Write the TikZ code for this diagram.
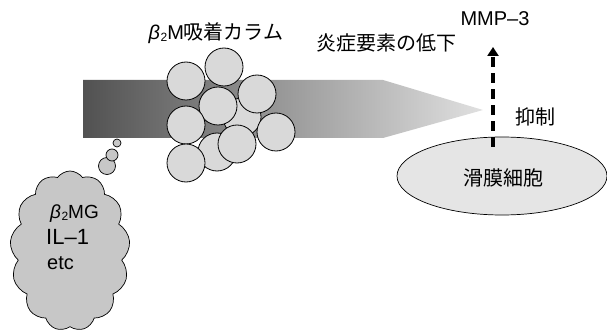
\documentclass[tikz,border=0pt]{standalone}
\usepackage{fontspec}
\setmainfont{Liberation Sans}
\newfontfamily\jp{Noto Sans CJK JP}
\usetikzlibrary{shapes.symbols,shapes.geometric,arrows.meta}
\begin{document}
\begin{tikzpicture}[x=1pt,y=-1pt,
  bead/.style={circle,draw=black,line width=0.8pt,fill=black!15,minimum size=38pt,inner sep=0pt},
  bubble/.style={circle,draw=black,line width=0.7pt,fill=black!22,inner sep=0pt},
  lbl/.style={font=\fontsize{20}{22}\selectfont\jp,inner sep=0pt},
  ctext/.style={anchor=west,inner sep=0pt},
  dasharrow/.style={line width=3.5pt,dash pattern=on 10pt off 6pt,-{Triangle[width=11pt,length=9pt]}}]
\useasboundingbox (0,0) rectangle (607,331);
% band
\shade[left color=black!68,right color=black!12]
  (83,80) -- (383,80) -- (483,110) -- (383,138) -- (83,138) -- cycle;
% beads
\node[bead] (c6) at (242,117) {};
\node[bead] (c8) at (217,152) {};
\node[bead] (c1) at (186,81) {};
\node[bead] (c2) at (224,67) {};
\node[bead] (c3) at (257,94) {};
\node[bead] (c4) at (218,106) {};
\node[bead] (c5) at (186,125) {};
\node[bead] (c7) at (276,132) {};
\node[bead] (c9) at (237,144) {};
\node[bead] (c10) at (186,163) {};
\node[inner sep=0pt,font=\fontsize{20}{22}\selectfont] (title) at (216,33) {\textit{β}\kern0.5pt{\fontsize{12}{12}\selectfont\raisebox{-2pt}{2}}M{\jp 吸着カラム}};
% cloud
\node[cloud,cloud puffs=13,cloud puff arc=110,aspect=0.75,draw=black,line width=0.7pt,fill=black!22,minimum width=120pt,minimum height=160pt,inner sep=0pt] (cloud) at (70,251) {};
\node[bubble,minimum size=17pt] (b3) at (107,166) {};
\node[bubble,minimum size=12pt] (b2) at (112,155) {};
\node[bubble,minimum size=8pt] (b1) at (117,143) {};
\node[ctext,font=\fontsize{19}{21}\selectfont] (t1) at (50,214) {\textit{β}\kern0.5pt{\fontsize{12}{12}\selectfont\raisebox{-2pt}{2}}MG};
\node[ctext,font=\fontsize{22}{24}\selectfont] (t2) at (46,237) {IL–1};
\node[ctext,font=\fontsize{20}{22}\selectfont] (t3) at (47,263) {etc};
% right side
\node[ellipse,draw=black,line width=0.7pt,fill=black!10,minimum width=210pt,minimum height=78pt,inner sep=0pt] (syn) at (502,176) {};
\node[lbl] (synt) at (503,178) {滑膜細胞};
\node[lbl] (dec) at (386,43) {炎症要素の低下};
\node[inner sep=0pt,font=\fontsize{20}{22}\selectfont] (mmp) at (495,19) {MMP–3};
\node[lbl] (inh) at (535,117) {抑制};
\coordinate (astart) at (493,147);
\coordinate (aend) at (493,47);
\draw[dasharrow] (astart) -- (aend);
\end{tikzpicture}
\end{document}
